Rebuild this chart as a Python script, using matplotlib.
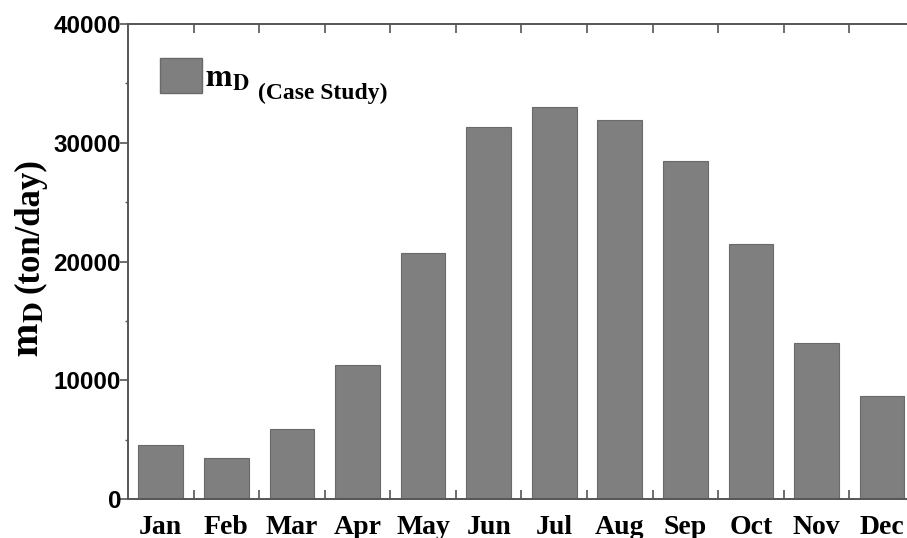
import matplotlib
matplotlib.use("Agg")
import matplotlib.pyplot as plt
import numpy as np
from matplotlib.patches import Patch

# monthly values (ton/day)
months = ["Jan", "Feb", "Mar", "Apr", "May", "Jun",
          "Jul", "Aug", "Sep", "Oct", "Nov", "Dec"]
m_d = [4600, 3500, 5950, 11300, 20700, 31300,
       33050, 31900, 28450, 21450, 13150, 8700]
y_ticks = [0, 10000, 20000, 30000, 40000]

plt.rcParams["mathtext.fontset"] = "stix"

W, H = 907, 538
fig = plt.figure(figsize=(W / 100, H / 100), dpi=100)
ax = fig.add_axes([128 / W, (H - 499.3) / H, 779 / W, 475.3 / H])

x = np.arange(len(months))
ax.bar(x, m_d, width=0.68, color="#7f7f7f", edgecolor="#6a6a6a", linewidth=0.8, zorder=2)

ax.set_xlim(-0.5, 11.38)
ax.set_ylim(0, 40000)

# x: labels at bar centres, tick marks between the bars
ax.set_xticks(x[:-1] + 0.5)
ax.set_xticklabels([])
ax.set_xticks(x, minor=True)
ax.set_xticklabels(months, minor=True, fontfamily="Liberation Serif",
                   fontweight="bold", fontsize=20)
ax.tick_params(axis="x", which="major", direction="in", length=6.5, width=1.2,
               color="#555555", top=True, bottom=True)
ax.tick_params(axis="x", which="minor", length=0, pad=11)

ax.set_yticks(y_ticks)
ax.set_yticklabels([str(v) for v in y_ticks], fontfamily="Liberation Sans",
                   fontweight="bold", fontsize=17.5)
ax.set_yticks(np.arange(5000, 40000, 10000), minor=True)
ax.tick_params(axis="y", which="major", direction="out", length=6, width=1.2,
               color="#555555", pad=-1)
ax.tick_params(axis="y", which="minor", direction="out", length=2.5, width=1.0,
               color="#555555")

for side in ["left", "top", "bottom"]:
    ax.spines[side].set_color("#555555")
    ax.spines[side].set_linewidth(1.4)
ax.spines["right"].set_visible(False)

# y label: big m_D plus the unit
fig.text(38 / W, (H - 357) / H, r"$\mathbf{m_D}$", rotation=90, rotation_mode="anchor",
         ha="left", va="baseline", fontsize=29)
fig.text(38 / W, (H - 293) / H, "(ton/day)", rotation=90, rotation_mode="anchor",
         ha="left", va="baseline", fontsize=25, fontfamily="Liberation Serif",
         fontweight="bold")

# legend
leg = ax.legend(handles=[Patch(facecolor="#7f7f7f", edgecolor="#6a6a6a")],
                labels=[r"$\mathbf{m_D}$"], loc="upper left",
                bbox_to_anchor=(160 / W, (H - 58) / H), bbox_transform=fig.transFigure,
                frameon=False, fontsize=23, handlelength=1.31, handleheight=1.3,
                handletextpad=0.1, borderpad=0, borderaxespad=0)
fig.canvas.draw()
bb = leg.get_texts()[0].get_window_extent()
fig.text((bb.x1 + 8) / W, (H - 99) / H, "(Case Study)", ha="left", va="baseline",
         fontsize=17, fontfamily="Liberation Serif", fontweight="bold")

fig.savefig("out.png", dpi=100)
